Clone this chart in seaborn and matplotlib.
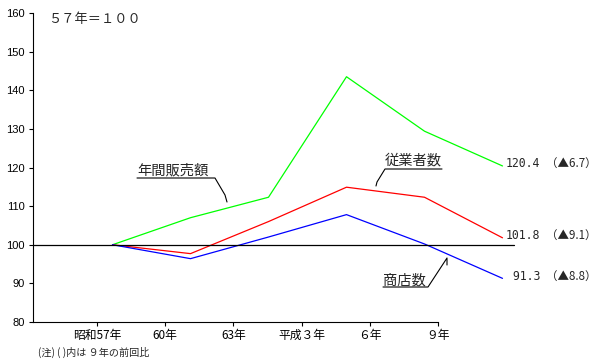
import numpy as np
import pandas as pd
import seaborn as sns
import matplotlib
matplotlib.use('Agg')
import matplotlib.pyplot as plt
from matplotlib.transforms import Affine2D
from matplotlib.lines import Line2D

# index 57年 = 100
years = ['昭和57年', '60年', '63年', '平成３年', '６年', '９年']
sales = [100, 107.0, 112.3, 143.5, 129.4, 120.4]
employees = [100, 97.7, 106.0, 114.9, 112.3, 101.8]
shops = [100, 96.4, 102.0, 107.8, 100.2, 91.3]
series_names = ['年間販売額', '従業者数', '商店数']
changes = ['▲6.7', '▲9.1', '▲8.8']
colors = ['#00ff00', '#ff0000', '#0000ff']

df = pd.DataFrame({'pos': np.arange(len(years)),
                   '年間販売額': sales, '従業者数': employees, '商店数': shops})
long = df.melt(id_vars='pos', var_name='series', value_name='value')

sns.set_theme(style='ticks')
plt.rcParams['font.family'] = ['Noto Sans CJK JP', 'DejaVu Sans']

fig = plt.figure(figsize=(6, 3.6), dpi=100)
ax = fig.add_axes([33 / 600, 38 / 360, 547 / 600, 309 / 360])

sns.lineplot(data=long, x='pos', y='value', hue='series',
             palette=dict(zip(series_names, colors)), linewidth=0.9,
             legend=False, ax=ax)

# category axis is drawn on its own spacing, not on the data points
unit = 78.0
x0 = (33 - 112.5) / unit
ax.set_xlim(x0, x0 + 547 / unit)
ax.set_ylim(80, 160)
ax.set_yticks(range(80, 161, 10))
tick_pos = [(97 - 112.5) / unit + k * 68.2 / unit for k in range(len(years))]
ax.set_xticks(tick_pos)
ax.set_xticklabels(years, fontsize=8.5)
for lab in ax.get_yticklabels():
    lab.set_family('Liberation Sans')
    lab.set_fontsize(8)
ax.set_xlabel('')
ax.set_ylabel('')

sns.despine(ax=ax)
ax.spines['bottom'].set_bounds(x0, tick_pos[-1])
for s in ['left', 'bottom']:
    ax.spines[s].set_color('black')
    ax.spines[s].set_linewidth(0.8)
ax.tick_params(axis='both', direction='out', length=3, width=0.8,
               color='black', labelcolor='black')
ax.tick_params(axis='x', pad=2)
ax.tick_params(axis='y', pad=3)

ax.axhline(100, xmin=0, xmax=(514 - 33) / 547, color='black', lw=0.9)

# end values and change vs previous survey
for vals, chg in zip([sales, employees, shops], changes):
    end = (len(years) - 1, vals[-1])
    ax.annotate(f'{vals[-1]:5.1f}', xy=end, xytext=(2.5, 1.5),
                textcoords='offset points', va='center', ha='left',
                fontsize=8.3, family='DejaVu Sans Mono')
    ax.annotate(f'（{chg}）', xy=end, xytext=(31, 1.5),
                textcoords='offset points', va='center', ha='left',
                fontsize=8.3)

# callout labels in pixel coords
px = Affine2D().scale(1 / 600, -1 / 360).translate(0, 1) + fig.transFigure
callouts = [
    ('年間販売額', (137, 170), [(137, 178), (215, 178), (225, 195), (227, 202)]),
    ('従業者数', (385, 160), [(442, 169), (385, 169), (377, 182), (376, 186)]),
    ('商店数', (383, 280), [(383, 287), (428, 287), (447, 258), (447, 265)]),
]
for name, (tx, ty), pts in callouts:
    fig.text(tx, ty, name, transform=px, ha='left', va='center', fontsize=10.3)
    xs, ys = zip(*pts)
    fig.add_artist(Line2D(xs, ys, transform=px, color='black', lw=0.8))

fig.text(48, 19, '５７年＝１００', transform=px, ha='left', va='center', fontsize=9.5)
fig.text(38, 352, '(注) ( )内は ９年の前回比', transform=px, ha='left', va='center',
         fontsize=7.3)

fig.savefig('out.png', dpi=100)
